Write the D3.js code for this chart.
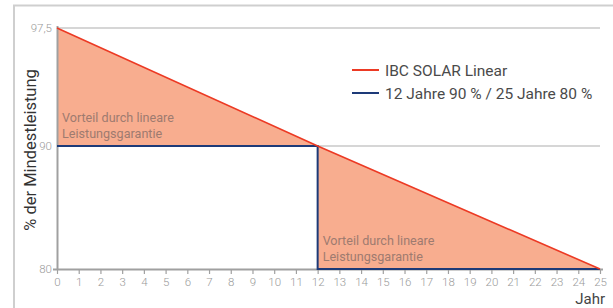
<!DOCTYPE html>
<html>
<head>
<meta charset="utf-8">
<script src="https://cdn.jsdelivr.net/npm/d3@7"></script>
<style>
  body { margin: 0; background: #fff; }
  text { font-family: Roboto, "Open Sans", sans-serif; }
</style>
</head>
<body>
<svg id="chart" width="613" height="308"></svg>
<script>
// Data
const years = d3.range(0, 26);                       // x tick labels 0..25
const yTicks = [80, 90, 97.5];
const yTickLabels = ["80", "90", "97,5"];
const linear = [[0, 97.5], [12, 90], [25, 80]];      // IBC SOLAR Linear
const stepped = [[0, 90], [12, 90], [12, 80], [25, 80]]; // 12 Jahre 90 % / 25 Jahre 80 %
const legendItems = ["IBC SOLAR Linear", "12 Jahre 90 % / 25 Jahre 80 %"];
const legendColors = ["#ec3a24", "#1d3a78"];
const noteLines = ["Vorteil durch lineare", "Leistungsgarantie"];

const svg = d3.select('#chart');

// x and y scales (the y axis is not evenly spaced in the original)
const x = d3.scaleLinear().domain([0, 25]).range([57, 600]);
const y = d3.scaleLinear().domain([80, 90, 97.5]).range([269, 146, 28]);

// outer frame
svg.append('path')
    .attr('d', 'M14,308 V5.5 H613')
    .attr('fill', 'none')
    .attr('stroke', '#cfcfcf')
    .attr('stroke-width', 2);

// grid lines
svg.selectAll('.grid').data([90, 97.5]).enter().append('line')
    .attr('x1', x(0)).attr('x2', x(25))
    .attr('y1', d => y(d)).attr('y2', d => y(d))
    .attr('stroke', '#c9c9c9').attr('stroke-width', 1.5);

// area between the two curves
const areaPts = linear.concat(stepped.slice().reverse());
svg.append('path')
    .attr('d', d3.line().x(d => x(d[0])).y(d => y(d[1]))(areaPts) + 'Z')
    .attr('fill', '#f8ad8f');

// axes
const xAxis = d3.axisBottom(x).tickValues(years).tickSize(5).tickPadding(4).tickFormat(d3.format('d'));
const gx = svg.append('g').attr('transform', `translate(0,${y(80)})`).call(xAxis);
gx.select('.domain').attr('d', `M${x(0) - 4},0.5H${x(25) + 3}`);
const yAxis = d3.axisLeft(y).tickValues(yTicks).tickSize(0).tickPadding(5)
    .tickFormat((d, i) => yTickLabels[i]);
const gy = svg.append('g').attr('transform', `translate(${x(0)},0)`).call(yAxis);
gy.select('.domain').attr('d', `M0.5,${y(97.5) - 2}V${y(80) + 1}`);
[gx, gy].forEach(g => {
    g.selectAll('.domain').attr('stroke', '#a0a0a0').attr('stroke-width', 2);
    g.selectAll('line').attr('stroke', '#a0a0a0').attr('stroke-width', 1.2);
    g.selectAll('text').attr('fill', '#9a9a9a').attr('font-size', 11.5)
        .style('font-family', 'Roboto, sans-serif').style('font-weight', 300);
});

// lines
const line = d3.line().x(d => x(d[0])).y(d => y(d[1]));
svg.append('path').attr('d', line(stepped)).attr('fill', 'none')
    .attr('stroke', legendColors[1]).attr('stroke-width', 2);
svg.append('path').attr('d', line(linear)).attr('fill', 'none')
    .attr('stroke', legendColors[0]).attr('stroke-width', 1.6);

// notes in the shaded areas
[[0, 90], [12, 80]].forEach(p => {
    const t = svg.append('text')
        .attr('x', x(p[0]) + 5)
        .attr('y', y(p[1]) - 24)
        .attr('fill', '#9e7b6f')
        .attr('font-size', 12.6);
    noteLines.forEach((s, i) => {
        t.append('tspan').attr('x', x(p[0]) + 5).attr('dy', i ? 16 : 0).text(s);
    });
});

// legend
const lg = svg.append('g').attr('transform', 'translate(352,70)');
legendItems.forEach((s, i) => {
    lg.append('line').attr('x1', 0).attr('x2', 27).attr('y1', i * 23).attr('y2', i * 23)
        .attr('stroke', legendColors[i]).attr('stroke-width', 2);
    lg.append('text').attr('x', 33).attr('y', i * 23 + 5.5)
        .attr('fill', '#4a4a4a').attr('font-size', 15.5).text(s);
});

// axis titles
svg.append('text')
    .attr('transform', `translate(36,150) rotate(-90)`)
    .attr('text-anchor', 'middle')
    .attr('fill', '#333').attr('font-size', 16.5)
    .text('% der Mindestleistung');
svg.append('text')
    .attr('x', 605).attr('y', 304)
    .attr('text-anchor', 'end')
    .attr('fill', '#444').attr('font-size', 15)
    .text('Jahr');
</script>
</body>
</html>
